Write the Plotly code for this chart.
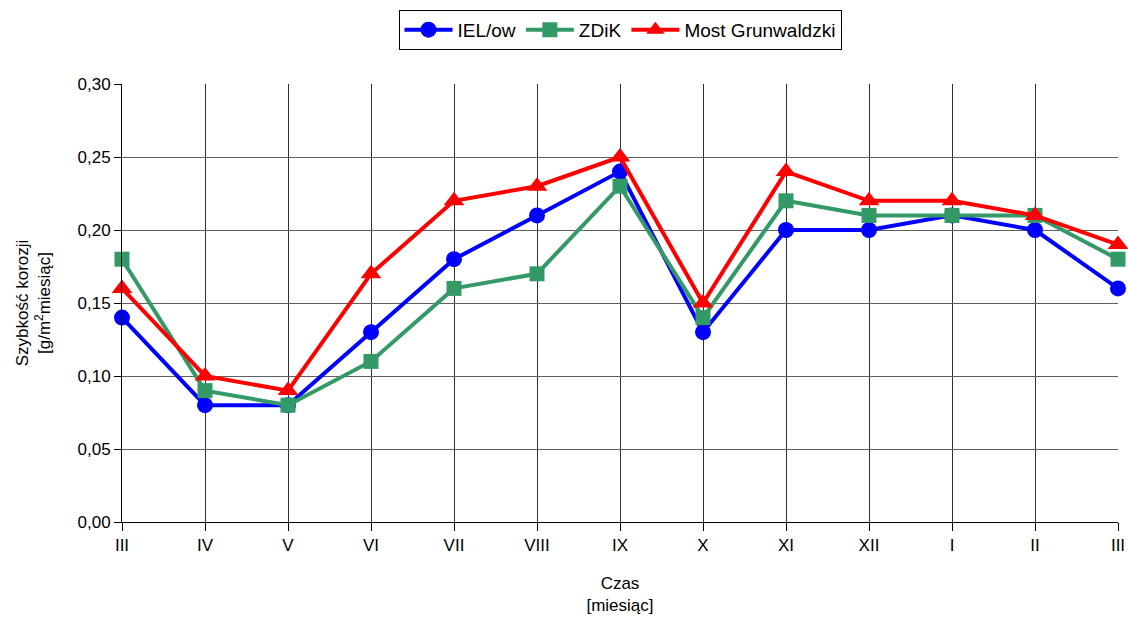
import plotly.graph_objects as go

months = ["III", "IV", "V", "VI", "VII", "VIII", "IX", "X", "XI", "XII", "I", "II", "III"]
iel_ow = [0.14, 0.08, 0.08, 0.13, 0.18, 0.21, 0.24, 0.13, 0.20, 0.20, 0.21, 0.20, 0.16]
zdik = [0.18, 0.09, 0.08, 0.11, 0.16, 0.17, 0.23, 0.14, 0.22, 0.21, 0.21, 0.21, 0.18]
most_grunwaldzki = [0.16, 0.10, 0.09, 0.17, 0.22, 0.23, 0.25, 0.15, 0.24, 0.22, 0.22, 0.21, 0.19]

xpos = list(range(len(months)))

fig = go.Figure()
series = [
    ("IEL/ow", iel_ow, "#0000FF", "circle", 16),
    ("ZDiK", zdik, "#339966", "square", 15),
    ("Most Grunwaldzki", most_grunwaldzki, "#FF0000", "triangle-up", 18),
]
for name, vals, col, sym, sz in series:
    fig.add_trace(go.Scatter(
        x=xpos, y=vals, name=name, mode="lines+markers",
        line=dict(color=col, width=4),
        marker=dict(color=col, symbol=sym, size=sz),
        cliponaxis=False,
    ))

fig.update_layout(
    width=1128, height=621,
    margin=dict(l=122, r=10, t=84, b=99, autoexpand=False),
    paper_bgcolor="white", plot_bgcolor="white",
    separators=", ",
    font=dict(family="Liberation Sans, Arial, sans-serif", size=17, color="black"),
    showlegend=True,
    legend=dict(
        orientation="h", x=0.5, xanchor="center",
        yref="container", y=0.952, yanchor="middle",
        bordercolor="black", borderwidth=1, bgcolor="white",
        font=dict(size=19), itemwidth=48, tracegroupgap=0,
    ),
    xaxis=dict(
        range=[0, 12], tickvals=xpos, ticktext=months,
        showgrid=True, gridcolor="#303030", gridwidth=1,
        showline=True, linecolor="black", linewidth=1,
        ticks="outside", ticklen=8, tickcolor="black",
        zeroline=False, tickfont=dict(size=17), automargin=False,
        title=dict(text="Czas<br>[miesiąc]", font=dict(size=17), standoff=22),
    ),
    yaxis=dict(
        range=[0, 0.30], dtick=0.05, tickformat=".2f",
        showgrid=True, gridcolor="#606060", gridwidth=1,
        showline=True, linecolor="black", linewidth=1,
        ticks="outside", ticklen=7, tickcolor="black",
        zeroline=False, tickfont=dict(size=17), automargin=False,
        title=dict(text="Szybkość korozji<br>[g/m<sup>2</sup>miesiąc]", font=dict(size=17), standoff=22),
    ),
)

fig.write_html("out.html")
